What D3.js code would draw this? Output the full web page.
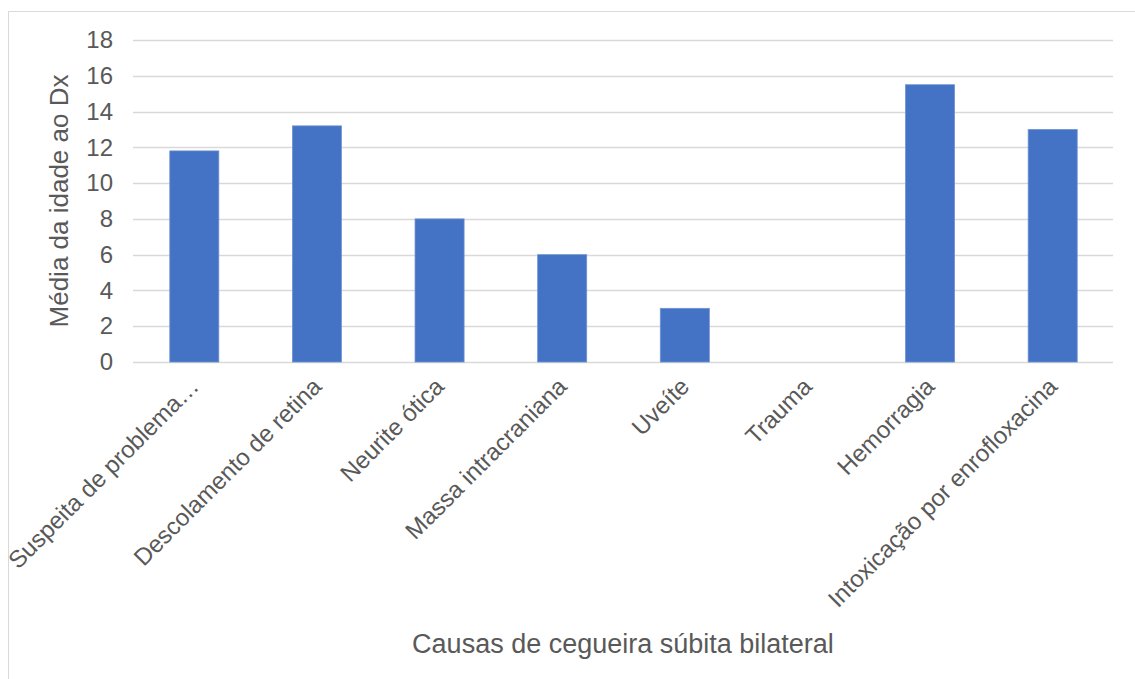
<!DOCTYPE html>
<html>
<head>
<meta charset="utf-8">
<script src="https://cdn.jsdelivr.net/npm/d3@7"></script>
<style>
  html, body { margin: 0; padding: 0; background: #fff; }
  svg { display: block; font-family: "Liberation Sans", Arial, sans-serif; }
</style>
</head>
<body>
<svg id="chart" width="1135" height="679"></svg>
<script>
// Causes of sudden bilateral blindness and the mean age at diagnosis
const categories = [
  "Suspeita de problema…",
  "Descolamento de retina",
  "Neurite ótica",
  "Massa intracraniana",
  "Uveíte",
  "Trauma",
  "Hemorragia",
  "Intoxicação por enrofloxacina"
];
const meanAge = [11.8, 13.2, 8, 6, 3, 0, 15.5, 13];
const yTicks = [0, 2, 4, 6, 8, 10, 12, 14, 16, 18];
const xTitle = "Causas de cegueira súbita bilateral";
const yTitle = "Média da idade ao Dx";

const svg = d3.select("#chart");
const plotLeft = 133, plotRight = 1114, plotTop = 40, plotBottom = 362;
const textColor = "#595959";
const fontSize = 24;

// chart frame
svg.append("rect")
  .attr("x", 8.5).attr("y", 11.5)
  .attr("width", 1200).attr("height", 800)
  .attr("fill", "none").attr("stroke", "#d9d9d9").attr("stroke-width", 1);

const x = d3.scaleBand().domain(categories).range([plotLeft, plotRight]).paddingInner(0.6).paddingOuter(0.3);
const y = d3.scaleLinear().domain([0, 18]).range([plotBottom, plotTop]);

// gridlines
svg.append("g")
  .selectAll("line")
  .data(yTicks)
  .join("line")
  .attr("x1", plotLeft).attr("x2", plotRight - 1)
  .attr("y1", d => Math.round(y(d)) + 0.5).attr("y2", d => Math.round(y(d)) + 0.5)
  .attr("stroke", "#d9d9d9").attr("stroke-width", 1.5);

// y axis labels
const yAxis = d3.axisLeft(y).tickValues(yTicks).tickSize(0).tickPadding(0).tickFormat(d3.format("d"));
const gy = svg.append("g").attr("transform", `translate(${plotLeft - 20},0)`).call(yAxis);
gy.select(".domain").remove();
gy.selectAll("text").attr("fill", textColor).style("font-size", fontSize + "px")
  .style("font-family", "Liberation Sans, Arial, sans-serif");

// bars
svg.append("g")
  .selectAll("rect")
  .data(categories)
  .join("rect")
  .attr("x", d => x(d))
  .attr("width", x.bandwidth())
  .attr("y", (d, i) => y(meanAge[i]))
  .attr("height", (d, i) => y(0) - y(meanAge[i]))
  .attr("fill", "#4472c4")
  .attr("stroke", "#6f93d3").attr("stroke-width", 0.8);

// x axis category labels, rotated
const xAxis = d3.axisBottom(x).tickSize(0).tickPadding(0);
const gx = svg.append("g").attr("transform", `translate(0,${plotBottom})`).call(xAxis);
gx.select(".domain").remove();
gx.selectAll(".tick text")
  .attr("fill", textColor)
  .style("font-size", fontSize + "px")
  .style("font-family", "Liberation Sans, Arial, sans-serif")
  .attr("text-anchor", "end")
  .attr("dy", "0.35em")
  .attr("transform", "translate(0,20) rotate(-45)");

// axis titles
svg.append("text")
  .attr("x", 623).attr("y", 653)
  .attr("text-anchor", "middle")
  .attr("fill", textColor).style("font-size", "27px")
  .text(xTitle);

svg.append("text")
  .attr("transform", "translate(68,201) rotate(-90)")
  .attr("text-anchor", "middle")
  .attr("fill", textColor).style("font-size", "26px")
  .text(yTitle);
</script>
</body>
</html>
